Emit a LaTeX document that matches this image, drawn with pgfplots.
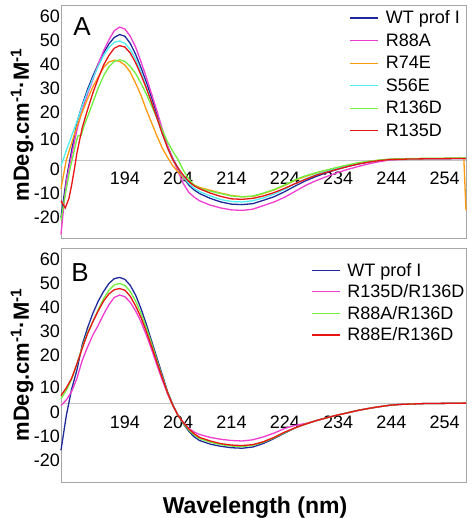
\documentclass[border=0pt]{standalone}
\usepackage{fontspec}
\setmainfont{Liberation Sans}
\usepackage{pgfplots}
\pgfplotsset{compat=1.18}

\definecolor{cWT}{HTML}{1F2A9A}
\definecolor{cMag}{HTML}{F03CD0}
\definecolor{cOra}{HTML}{FF9A10}
\definecolor{cCya}{HTML}{50EEF0}
\definecolor{cGre}{HTML}{70F040}
\definecolor{cRed}{HTML}{E81414}
\definecolor{frm}{HTML}{A6A6A6}
\definecolor{zln}{HTML}{C4C4C4}

\pgfplotsset{
 cdax/.style={
  scale only axis, width=405bp, clip=false,
  xmin=182, xmax=258, ymin=-32.5, ymax=64.5,
  axis line style={frm, line width=0.8bp},
  xtick={194,204,...,254},
  major tick length=0pt,
  tick label style={font=\fontsize{18bp}{20bp}\selectfont},
  yticklabel style={inner sep=1bp},
  xticklabel style={inner sep=1bp, yshift=67bp},
  /pgf/number format/assume math mode=true,
  legend cell align=left,
  legend image code/.code={\draw[##1, line width=1.3bp] (0bp,0bp) -- (28bp,0bp);},
  legend style={draw=none, fill=none, font=\fontsize{18bp}{20bp}\selectfont,
     anchor=north west, inner sep=0pt, row sep=4.5bp, column sep=5bp},
 }
}

\begin{document}
\begin{tikzpicture}
%%%%%%%%%%%%%%%%%%%% Panel A
\begin{axis}[cdax, height=233bp,
  ytick={-23.7,-13.7,-3.7,8.5,20,30,40,50,60},
  yticklabels={-20,-10,0,10,20,30,40,50,60},
  legend style={at={(axis description cs:0.712,0.985)}}]
\draw[zln, line width=0.8bp] (axis cs:182,0) -- (axis cs:258,0);
\pgfplotsinvokeforeach{191.75,201.75,211.75,221.75,231.75,241.75,251.75}{
  \draw[zln, line width=0.8bp] (axis cs:#1,0) ++(0,-2bp) -- ++(0,4bp);}
\node[rotate=90, font=\fontsize{22bp}{24bp}\selectfont\bfseries] at (axis description cs:-0.096,0.485) {mDeg.cm\textsuperscript{-1}·M\textsuperscript{-1}};
\addplot[color=cWT, line width=1.3bp] coordinates {(182,-24)(183,-8)(184,4)(185,15.5)(186,23)(187,29.5)(188,35)(189,40)(190,44.5)(191,48.3)(192,51)(193,52.2)(194,51.5)(195,48.5)(196,44)(197,38.5)(198,32.5)(199,26)(200,19)(201,12)(202,5.5)(203,0.5)(204,-3.5)(205,-7.5)(206,-10.5)(207,-12.5)(208,-14)(210,-16)(212,-17.5)(214,-18.4)(216,-18.6)(218,-18.2)(220,-16.8)(222,-15.3)(224,-13.2)(226,-10.8)(228,-8.6)(230,-6.8)(232,-5.2)(234,-3.8)(236,-2.6)(238,-1.6)(240,-0.8)(242,-0.2)(244,0.2)(248,0.4)(252,0.5)(258,0.6)};
\addlegendentry{WT prof I}
\addplot[color=cMag, line width=1.3bp] coordinates {(182,-31)(183,-9)(184,2)(185,12.5)(186,21)(187,27.5)(188,33.5)(189,40)(190,45.5)(191,50)(192,53.8)(193,55.3)(194,54.5)(195,51.5)(196,47)(197,41)(198,34.5)(199,27.5)(200,20.5)(201,13)(202,6)(203,0.5)(204,-5)(205,-10)(206,-13.5)(207,-15.5)(208,-17)(210,-18.8)(212,-20)(214,-20.8)(216,-21)(218,-20.5)(220,-19)(222,-17.5)(224,-15.5)(226,-13)(228,-10.5)(230,-8.5)(232,-6.8)(234,-5.2)(236,-3.8)(238,-2.6)(240,-1.5)(242,-0.6)(244,0)(248,0.4)(252,0.5)(258,0.6)};
\addlegendentry{R88A}
\addplot[color=cOra, line width=1.3bp] coordinates {(182,-12)(183,0)(184,7)(185,14)(186,20)(187,25.5)(188,30.5)(189,34.5)(190,38.5)(191,40.8)(192,41.5)(193,41)(194,39.5)(195,36.5)(196,32)(197,27)(198,21)(199,15.5)(200,10)(201,5)(202,1)(203,-2.5)(204,-5)(205,-7.5)(206,-9.3)(207,-10.5)(208,-11.4)(210,-12.6)(212,-13.8)(214,-14.8)(216,-15.3)(218,-15.2)(220,-14)(222,-12.5)(224,-10.6)(226,-8.4)(228,-6.8)(230,-5.4)(232,-4.3)(234,-3.2)(236,-2.2)(238,-1.3)(240,-0.6)(242,0)(244,0.3)(248,0.5)(252,0.6)(257.6,0.7)(258,-21)};
\addlegendentry{R74E}
\addplot[color=cCya, line width=1.3bp] coordinates {(182,-2.5)(183,4)(184,10)(185,16)(186,22.5)(187,28.5)(188,34)(189,39)(190,43.5)(191,46.8)(192,49)(193,49.5)(194,48.5)(195,46)(196,42)(197,36.5)(198,30.5)(199,24)(200,17.5)(201,11)(202,5)(203,0)(204,-3.5)(205,-7)(206,-9.8)(207,-11.8)(208,-13.2)(210,-15)(212,-16.5)(214,-17.3)(216,-17.5)(218,-17)(220,-15.8)(222,-14.2)(224,-12.2)(226,-9.8)(228,-7.8)(230,-6)(232,-4.6)(234,-3.4)(236,-2.3)(238,-1.4)(240,-0.7)(242,-0.1)(244,0.2)(248,0.4)(252,0.5)(258,0.6)};
\addlegendentry{S56E}
\addplot[color=cGre, line width=1.3bp] coordinates {(182,-25)(183,-12)(183.7,-3.7)(184.5,4)(184.9,8)(185.2,10)(185.8,10.3)(186.3,14)(187,18)(188,24)(189,30)(190,35)(191,38.8)(192,41)(193,41.7)(194,41)(195,39)(196,36)(197,32)(198,27.5)(199,22.5)(200,17.5)(201,12.5)(202,7.5)(203,3.5)(204,0)(205,-4.5)(206,-8)(207,-10.5)(208,-11.8)(210,-13)(212,-14)(214,-15)(216,-15.4)(218,-15)(220,-13.8)(222,-12.3)(224,-10.4)(226,-8.2)(228,-6.5)(230,-5.2)(232,-4.1)(234,-3)(236,-2)(238,-1.1)(240,-0.5)(242,0)(244,0.4)(248,0.6)(252,0.7)(258,0.8)};
\addlegendentry{R136D}
\addplot[color=cRed, line width=1.3bp] coordinates {(182,-17)(182.8,-20)(183.5,-16)(184,-10.5)(184.5,-4)(185,3)(186,13.5)(187,21)(188,28)(189,34)(190,39.5)(191,43.5)(192,46.5)(193,47.6)(194,47)(195,44.5)(196,40.5)(197,35.5)(198,30)(199,24)(200,17.5)(201,11)(202,5)(203,0)(204,-3.5)(205,-6.5)(206,-9)(207,-10.8)(208,-12)(210,-13.8)(212,-15.2)(214,-16.2)(216,-16.4)(218,-16)(220,-15)(222,-13.6)(224,-11.8)(226,-9.8)(228,-8)(230,-6.3)(232,-5)(234,-3.8)(236,-2.6)(238,-1.6)(240,-0.8)(242,-0.2)(244,0.2)(248,0.4)(252,0.5)(258,0.6)};
\addlegendentry{R135D}
\node[font=\fontsize{26bp}{28bp}\selectfont] at (axis description cs:0.052,0.906) {A};
\coordinate (Atl) at (rel axis cs:0,1);
\end{axis}
%%%%%%%%%%%%%%%%%%%% Panel B
\begin{axis}[cdax, height=234bp, at={(0,-244bp)},
  ytick={-23.7,-13.7,-3.7,6.7,20,30,40,50,60},
  yticklabels={-20,-10,0,10,20,30,40,50,60},
  xlabel={Wavelength (nm)},
  xlabel style={font=\fontsize{23bp}{25bp}\selectfont\bfseries, anchor=center, at={(axis description cs:0.479,-0.11)}},
  legend style={at={(axis description cs:0.617,0.945)}, row sep=3bp}]
\draw[zln, line width=0.8bp] (axis cs:182,0) -- (axis cs:258,0);
\pgfplotsinvokeforeach{191.75,201.75,211.75,221.75,231.75,241.75,251.75}{
  \draw[zln, line width=0.8bp] (axis cs:#1,0) ++(0,-2bp) -- ++(0,4bp);}
\node[rotate=90, font=\fontsize{22bp}{24bp}\selectfont\bfseries] at (axis description cs:-0.096,0.5) {mDeg.cm\textsuperscript{-1}·M\textsuperscript{-1}};
\addplot[color=cWT, line width=1.3bp] coordinates {(182,-19.4)(183,-5)(184,6)(185,14)(186,24.5)(187,31.5)(188,37.5)(189,42.5)(190,46.5)(191,49.8)(192,51.8)(193,52.3)(194,51.5)(195,49)(196,45)(197,39.5)(198,33)(199,26)(200,19)(201,12)(202,5)(203,-0.5)(204,-5)(205,-8.5)(206,-11.5)(207,-13.8)(208,-15.3)(210,-16.8)(212,-17.7)(214,-18.3)(216,-18.5)(218,-18)(220,-16.5)(222,-14.5)(224,-12.2)(226,-10)(228,-8.4)(230,-7)(232,-5.8)(234,-4.7)(236,-3.7)(238,-2.7)(240,-1.9)(242,-1.2)(244,-0.6)(246,-0.3)(250,0)(254,0.1)(258,0.2)};
\addplot[color=cMag, line width=1.3bp] coordinates {(182,-0.8)(183,1.5)(184,5)(185,10.5)(186,18)(187,23.5)(188,28.5)(189,32.5)(190,37)(191,41)(192,44)(193,45)(194,44.3)(195,42)(196,38.5)(197,34)(198,28.5)(199,22.5)(200,16)(201,9.8)(202,4)(203,-1)(204,-5)(205,-8)(206,-10.3)(207,-11.8)(208,-12.8)(210,-14)(212,-14.8)(214,-15.3)(216,-15.5)(218,-15)(220,-13.8)(222,-12.2)(224,-10.3)(226,-9)(228,-8.2)(230,-7)(232,-5.8)(234,-4.7)(236,-3.7)(238,-2.7)(240,-1.9)(242,-1.2)(244,-0.6)(246,-0.3)(250,0)(254,0.1)(258,0.2)};
\addplot[color=cGre, line width=1.3bp] coordinates {(182,2)(183,5.5)(184,10)(185,16.5)(186,23.5)(187,29.5)(188,34)(189,39)(190,43.5)(191,47)(192,49.2)(193,49.8)(194,49)(195,46.5)(196,42.5)(197,37.5)(198,31.5)(199,25)(200,18)(201,11.2)(202,4.7)(203,-0.8)(204,-5)(205,-8.3)(206,-11)(207,-13)(208,-14.5)(210,-16)(212,-17)(214,-17.6)(216,-17.8)(218,-17.3)(220,-16)(222,-14.2)(224,-12)(226,-10)(228,-8.4)(230,-7)(232,-5.8)(234,-4.7)(236,-3.7)(238,-2.7)(240,-1.9)(242,-1.2)(244,-0.6)(246,-0.3)(250,0)(254,0.1)(258,0.2)};
\addplot[color=cRed, line width=1.3bp] coordinates {(182,3.3)(183,6.5)(184,10.5)(185,16.5)(186,23)(187,29)(188,34)(189,38.5)(190,42.5)(191,45.5)(192,47.2)(193,47.7)(194,47)(195,44.5)(196,40.5)(197,35.8)(198,30)(199,23.8)(200,17.2)(201,10.7)(202,4.5)(203,-0.8)(204,-5)(205,-8)(206,-10.5)(207,-12.5)(208,-14)(210,-15.5)(212,-16.6)(214,-17.2)(216,-17.4)(218,-17)(220,-15.8)(222,-14)(224,-11.8)(226,-10)(228,-8.4)(230,-7)(232,-5.8)(234,-4.7)(236,-3.7)(238,-2.7)(240,-1.9)(242,-1.2)(244,-0.6)(246,-0.3)(250,0)(254,0.1)(258,0.2)};
\legend{WT prof I, R135D/R136D, R88A/R136D, R88E/R136D}
\node[font=\fontsize{26bp}{28bp}\selectfont] at (axis description cs:0.047,0.893) {B};
\end{axis}
\pgfresetboundingbox
\path[use as bounding box] ([xshift=-61bp,yshift=5bp]Atl) rectangle ([xshift=413bp,yshift=-513bp]Atl);
\end{tikzpicture}
\end{document}
